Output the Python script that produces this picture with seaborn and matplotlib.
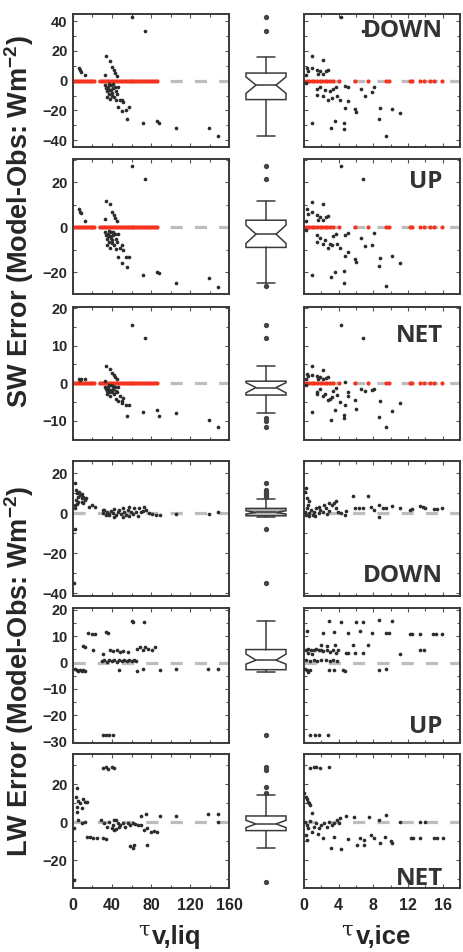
import numpy as np
import matplotlib
matplotlib.use("Agg")
import matplotlib.pyplot as plt
from matplotlib.ticker import MultipleLocator
import seaborn as sns

# ==========================================
# 1. DATOS
# ==========================================
# SW: los tres paneles (DOWN/UP/NET) comparten los mismos casos -> mismo x
sw_liq_x = [6, 7, 8, 12, 33, 34, 38, 40, 42, 43, 45, 60, 74,
            33, 34, 35, 36, 37, 38, 39, 40, 41, 42, 43, 44,
            35, 38, 40, 45, 46, 36, 44, 37, 41, 39,
            46.5, 50, 50, 54, 57, 55, 48, 51, 72, 86, 88, 106, 139, 149]
sw_liq_down = [8.4, 7, 6, 4, 4, 16.7, 13.5, 9, 7, 5, 3, 42.5, 33.5,
               -3, -5, -7, -4, -9, -6, -3, -8, -5, -11, -4, -7,
               -11, -12, -10, -9, -4, -6, -13, -2, -2.5, -6.5,
               -18, -12.7, -20.5, -19.5, -18, -26, -13, -14, -28.7, -27, -28.5, -32, -31.5, -37]
sw_liq_up = [8, 7, 6.4, 3, 3.6, 11.8, 10.6, 7, 5.5, 4, 3, 27.4, 21.5,
             -2, -3.5, -5, -3, -6.5, -4, -2, -5.5, -3.5, -8, -3, -5,
             -8, -9, -7, -6.5, -3, -4, -9.5, -1.5, -2, -4.5,
             -13.3, -7.9, -16, -13, -13, -17.6, -9, -10, -21.2, -19.8, -20.3, -24.7, -22.4, -26.3]
sw_liq_net = [1, 0.8, 1.2, 1, 0.5, 4.6, 3.7, 2.7, 2.2, 1.7, 1, 15.5, 12.1,
              -1, -1.5, -2, -1, -2.5, -2, -0.5, -2, -1.5, -3, -1, -2,
              -3, -3.5, -2.5, -2.5, -1, -1.5, -4.3, -0.5, -0.8, -1.8,
              -4.9, -4.8, -5.4, -5.9, -5.9, -8.8, -3.5, -4, -7.6, -7.1, -8.9, -8, -9.8, -11.6]
# casos con error nulo (rojo)
sw_liq_zero_x = [0, 2, 4, 6, 8, 10, 12, 14, 16, 18, 20, 22, 28, 30, 32, 34, 36, 38, 40, 42,
                 44, 46, 48, 50, 52, 54, 56, 58, 60, 62, 64, 66, 68, 70, 72, 74, 76, 78, 80,
                 82, 84, 86]

sw_ice_x = [0.9, 2.2, 0.35, 0.5, 0.9, 1.5, 1.9, 2.5, 2.8, 1.6, 2.2, 0.27, 0.27,
            1.46, 1.85, 2.4, 3.0, 3.35, 3.7, 1.54, 2.2, 2.8, 3.2, 3.8, 4.2,
            4.7, 5.1, 6.6, 7.0, 7.9, 8.1,
            4.7, 5.1, 5.9, 6.0, 8.8, 10.1, 11.1, 8.7, 0.9, 3.1, 3.6, 4.6, 4.6, 9.5,
            4.3, 6.8]
sw_ice_down = [16.2, 14.0, 8.4, 6.2, 8.4, 7.3, 6.2, 6.2, 6.9, 4.7, 4.7, 4.0, -1.6,
               -5.6, -4.2, -6.0, -7.1, -5.6, -4.2, -9.3, -10.4, -12.7, -11.6, -10.4, -12.7,
               -3.3, -4.2, -5.6, -10.0, -7.8, -4.2,
               -18.2, -13.8, -18.9, -21.1, -18.2, -19.3, -21.6, -26.0, -28.7, -31.5, -27.0, -28.7, -32.2, -37.1,
               42.5, 33.5]
sw_ice_up = [11.4, 10.3, 8.0, 6.0, 7.0, 5.5, 4.8, 4.5, 5.0, 3.2, 3.3, 2.8, -1.0,
             -3.4, -4.5, -5.7, -7.2, -4.0, -3.0, -6.5, -7.5, -9.0, -8.0, -7.5, -9.0,
             -3.4, -2.7, -4.5, -8.4, -7.6, -2.7,
             -12.8, -10.8, -14.2, -15.3, -13.8, -12.8, -16.0, -17.2, -21.2, -22.2, -19.7, -19.2, -24.6, -26.1,
             27.4, 21.5]
sw_ice_net = [4.6, 3.5, 2.5, 1.8, 2.2, 2.0, 1.5, 1.4, 1.6, 1.0, 1.1, 1.0, -0.4,
              -2.3, -1.5, -2.8, -4.2, -2.0, -1.2, -3.0, -3.5, -4.4, -3.8, -3.3, -5.0,
              0.2, -2.3, -1.6, -2.0, -1.9, -1.6,
              -5.8, -3.5, -4.4, -7.0, -4.8, -7.5, -5.4, -9.0, -7.6, -9.9, -7.2, -8.5, -9.2, -11.6,
              15.5, 12.1]
sw_ice_zero_x = [0, 0.3, 0.6, 0.9, 1.2, 1.5, 1.8, 2.1, 2.4, 2.7, 3.0, 3.4, 4.0, 5.9, 7.4,
                 9.5, 9.8, 12.2, 12.5, 13.4, 13.8, 14.5, 15.0, 15.9]

# LW: pares (tau, error)
lw_down_liq = [(2.1, 15), (3, 11.7), (4.3, 10), (5.6, 8.3), (7.2, 9.2), (8.9, 7.5), (10.6, 8.3),
               (12.3, 6.7), (13.3, 7.8), (8.9, 5.8), (5.6, 5.8), (10.6, 5), (2.1, 2.5), (2.1, 4.2),
               (3.5, 6.5), (6.5, 10.5), (9.5, 9.8), (4.5, 4.5),
               (16, 3.3), (19.6, 4.2), (23, 3.3), (2.1, -7.9), (1, -35),
               (30.5, 0), (32, 1.7), (34.5, 0.8), (36.5, -0.5), (38.9, 1.2), (40.6, 0), (42.3, 2.2),
               (44, -0.8), (45.8, 0.5), (47.5, 1.7), (49.2, -0.5), (50.9, 2.8), (52.6, 0.8),
               (54.3, -0.8), (56, 1.7), (57.7, 3.3), (59.4, 0.5), (61.1, -0.5), (62.8, 2.5),
               (64.5, 0.8), (66.2, -1.2), (67.9, 2.5), (69.6, 0.5), (71.3, 1.2), (73, 3.3),
               (74.7, 1.7), (78.1, 0), (81.5, -0.5), (84.9, -0.8), (37.3, -0.8), (42.3, -1.7),
               (50.9, -1.7), (57.7, -1.2), (30.5, 1.7), (33.8, -0.8),
               (89, -0.8), (106, -0.5), (139, -0.5), (149, 0.5)]
lw_down_ice = [(0.1, 10.8), (0.2, 12.5), (0.4, 7.5), (0.6, 6.2), (0.5, 4.2), (0.1, 0.8), (0.2, -0.8),
               (0.4, 2.5), (0.6, 0), (0.8, 1.7), (1.0, -0.8), (1.2, 0.8), (1.4, 2.5), (1.7, 0),
               (1.9, 1.7), (2.2, 0.5), (2.5, 2.5), (2.7, -0.5), (2.9, 1.2), (3.2, 4.2), (3.5, 5.0),
               (3.7, 2.5), (3.9, 0.8), (4.3, 0), (4.7, -0.8), (4.9, 1.2), (1.7, 3.3), (2.3, 4.2),
               (2.9, 5.0), (1.3, -1.2), (0.6, -1.2),
               (3.7, 6.2), (5.7, 8.8), (7.4, 8.8), (5.9, 2.5), (6.4, 2.5), (6.8, 2.5), (7.7, 3.3),
               (8.1, 1.7), (8.7, 4.2), (9.1, 2.8), (8.7, -1.7), (9.5, 2.5), (10.1, 3.8), (11.1, 2.8),
               (12.2, 1.7), (12.5, 2.2), (13.4, 3.8), (13.7, 3.3), (14.0, 2.5), (15.0, 2.2),
               (15.4, 2.2), (15.9, 2.5)]
lw_up_liq = [(2.1, -2.3), (3.8, -2.9), (5.5, -3.2), (7.2, -2.7), (8.9, -3.3), (10.6, -2.9),
             (12.3, -3.2), (10.6, 6.2), (12.3, 5.9), (15.8, 11.2), (19.2, 10.9), (22.6, 10.7),
             (20.9, 4.9), (33.9, 11.6), (36.3, 11.3), (31.2, 3.4),
             (29.4, 0.6), (31.8, 1.1), (34.5, 0.2), (37.3, 0.9), (39.7, 0.5), (42.1, 1.1),
             (44.8, 0.2), (47.5, 0.9), (49.9, 0.6), (52.3, 1.1), (55.0, 0.5), (57.8, 0.9),
             (60.2, 0.6), (62.6, 1.1), (64.6, 0.5),
             (38, 4.7), (41.4, 4.4), (44.8, 4.7), (48.2, 4.1), (51.6, 4.4), (56.7, 4.1),
             (60.2, 15.8), (61.9, 15.4), (73.3, 15.4),
             (65.3, 5.3), (68.7, 5.9), (71.4, 4.9), (73.8, 5.7), (77.2, 5.3), (80.6, 4.9), (84, 5.7),
             (47.5, -2.9), (65.3, -3.2), (72.1, -2.3), (89.2, -2.9), (105.6, -2.3), (138.8, -2.3),
             (149, -2.5),
             (31.2, -27.5), (33.9, -27.3), (37.3, -27.5), (41.4, -27.3)]
lw_up_ice = [(2.9, 15.8), (4.3, 15.4), (6.0, 15.4), (6.8, 15.4), (8.7, 16.0), (10.1, 15.8),
             (0.4, 11.9), (2.2, 11.3), (3.5, 11.6), (5.1, 11.3), (6.5, 11.8), (7.9, 11.3),
             (9.5, 11.3), (9.8, 11.3),
             (12.2, 10.9), (12.5, 10.9), (13.4, 10.9), (14.9, 10.9), (15.2, 10.9), (15.9, 10.9),
             (0.2, 4.7), (0.5, 5.3), (0.8, 4.9), (1.1, 4.7), (1.4, 5.3), (1.7, 4.7), (2.0, 4.9),
             (2.2, 4.4), (2.6, 4.9), (3.0, 4.1), (3.3, 4.7), (3.7, 3.6), (3.9, 4.7), (0.5, 3.6),
             (0.9, 3.4),
             (2.0, 6.8), (2.7, 6.2), (3.6, 6.6), (5.7, 6.6), (7.4, 6.6),
             (4.8, 3.6), (5.1, 3.6), (5.9, 3.6), (6.8, 3.6), (11.1, 3.4), (13.4, 4.9), (13.8, 4.9),
             (0.2, 0.9), (0.7, 0.6), (1.1, 1.1), (1.5, 0.6), (2.0, 0.9), (2.5, 1.1), (3.0, 0.6),
             (3.4, 0.9), (3.8, 0.5),
             (0.1, -2.3), (0.3, -2.9), (0.5, -3.5), (0.7, -2.7), (2.9, -2.7), (3.5, -2.9),
             (4.5, -2.9), (4.7, -3.2), (8.7, -2.9), (9.5, -2.3),
             (0.7, -27.5), (1.3, -27.5), (1.7, -27.5), (2.8, -27.5)]
lw_net_liq = [(31.2, 28.4), (33.9, 29.3), (36.3, 27.9), (39.7, 28.8), (42.1, 28.4),
              (3.8, 17.9), (3, 13.5), (5.5, 11.4), (7.2, 10), (10.6, 12.1), (12.3, 10.7), (14, 10.9),
              (3.8, 8.2), (8.9, 7.4), (4.6, 5.6),
              (1, -3.2), (5.5, 1.2), (8.9, -0.2), (12.3, 0.3),
              (14.7, -7.6), (17.4, -7.9), (20.8, -8.4), (24.2, -8.4), (31, -8.4), (33.7, -8.9),
              (28.9, 1.2), (32.3, -0.5), (35.0, -2.3), (37.4, 0.3), (39.7, -3.2), (42.4, 1.2),
              (44.1, -3.7), (45.8, -0.5), (48.5, -1.4), (50.9, -0.2), (53.3, -2.3), (56.0, -0.5),
              (58.7, -1.4), (61.1, -0.2), (63.5, -0.9), (66.2, -1.4), (40.7, -1.4), (44.1, 1.2),
              (47.5, -2.3), (41.7, -4.1),
              (58.7, -12.6), (61.1, -13.5), (62.8, -11.8),
              (69.6, -1.4), (73, -4.1), (76.4, -3.2), (79.8, -4.9), (83.2, -4.4), (86.5, -4.9),
              (69.6, 3.3), (74.7, 4.2), (76.4, -11.8),
              (89.2, 3.3), (105.6, 3.3), (138.8, 4.2), (149, 4.2), (149, 0.3), (1, -30.4)]
lw_net_ice = [(0.7, 28.4), (1.1, 28.8), (1.4, 29.3), (1.8, 28.4), (2.9, 29.3),
              (0, 15.2), (0.2, 13.5), (0.5, 10.9), (0.6, 10), (0.7, 9.1), (0.4, 12.1), (0.9, 4.7),
              (0.1, 0.3), (0.3, -1.4), (0.5, -3.2), (0.7, 0.5), (0.9, -4.9), (1.1, -2.3), (1.4, -0.5),
              (1.7, -3.2), (2.0, -1.4), (2.3, -0.2), (2.6, -2.3), (2.9, 0.3), (3.2, -1.4),
              (3.5, -0.5), (3.8, 1.2), (4.0, -0.2), (4.2, 2.1), (0.2, -6.7), (0.4, -9.3), (1.6, -6.2),
              (3.1, -13.7), (4.3, -14.0),
              (4.8, 3.3), (5.8, 3.0), (7.5, 3.0), (9.5, 3.9), (8.6, 1.2), (11.1, 0.3), (13.4, 0.0),
              (14.0, 0.3),
              (2.2, -8.4), (3.5, -7.9), (5.1, -9.0), (6.5, -8.4), (6.9, -9.3), (7.7, -6.7),
              (8.1, -8.4), (9.4, -7.9), (10.0, -9.7),
              (6.1, -11.9), (6.9, -11.9), (8.8, -11.1), (10.2, -11.1),
              (12.3, -8.4), (12.6, -8.4), (13.4, -8.4), (15.0, -8.4), (15.3, -8.4), (16.0, -8.4)]

# resumen de las cajas (columna central)
box_sw_down = dict(med=-3, q1=-12.7, q3=5.1, cilo=-8.5, cihi=2.5, whislo=-37, whishi=15.8,
                   fliers=[33.5, 42.5])
box_sw_up = dict(med=-3, q1=-8.9, q3=3.2, cilo=-7.1, cihi=1.0, whislo=-24.9, whishi=11.8,
                 fliers=[21.5, 27.4, -26])
box_sw_net = dict(med=-1.2, q1=-3.2, q3=0.5, cilo=-2.6, cihi=0.1, whislo=-8.1, whishi=4.6,
                  fliers=[15.5, 12.1, -9.4, -10.1, -11.6])
box_lw_down = dict(med=0.5, q1=-1.2, q3=2.5, cilo=-0.3, cihi=1.3, whislo=-1.7, whishi=7,
                   fliers=[8.3, 9.2, 10, 10.8, 11.7, 15, -7.9, -35])
box_lw_up = dict(med=0.9, q1=-2.7, q3=4.9, cilo=-0.6, cihi=3.2, whislo=-3.6, whishi=15.8,
                 fliers=[-27.5])
box_lw_net = dict(med=-0.9, q1=-4.4, q3=3.3, cilo=-2.8, cihi=1.0, whislo=-13.7, whishi=14.4,
                  fliers=[15.3, 18.7, 27.5, 29.3, -31.3])

# ==========================================
# 2. ESTILO
# ==========================================
sns.set_style("ticks")
plt.rcParams['font.family'] = ['Liberation Sans', 'DejaVu Sans']
plt.rcParams['font.weight'] = 'bold'
plt.rcParams['mathtext.fontset'] = 'custom'
plt.rcParams['mathtext.rm'] = 'Liberation Sans'
plt.rcParams['mathtext.bf'] = 'Liberation Sans:bold'

W, H = 464, 952
DOT = '#2d2d2d'
RED = '#f5331f'
GRAY = '#bdbdbd'
EDGE = '#3a3a3a'

fig = plt.figure(figsize=(W / 100, H / 100), dpi=100)


def ax_px(left, top, right, bottom):
    return fig.add_axes([left / W, 1 - bottom / H, (right - left) / W, (bottom - top) / H])


def split(pairs):
    return [p[0] for p in pairs], [p[1] for p in pairs]


def scatter_panel(ax, xs, ys, zero_x=None):
    ax.axhline(0, color=GRAY, lw=2.3, ls=(0, (3.8, 3.8)), zorder=1)
    if zero_x is not None:
        sns.scatterplot(x=zero_x, y=np.zeros(len(zero_x)), ax=ax, color=RED, s=9,
                        linewidth=0, zorder=2, legend=False)
    sns.scatterplot(x=xs, y=ys, ax=ax, color=DOT, s=7, linewidth=0, zorder=3, legend=False)


def frame(ax, xlim, xmaj, xmin, ylim, yticks, ymin, labelleft, labelbottom):
    ax.set_xlim(*xlim)
    ax.set_ylim(*ylim)
    ax.xaxis.set_major_locator(MultipleLocator(xmaj))
    ax.xaxis.set_minor_locator(MultipleLocator(xmin))
    ax.set_yticks(yticks)
    ax.yaxis.set_minor_locator(MultipleLocator(ymin))
    ax.tick_params(which='both', direction='in', top=True, right=True, width=0.8, color='#555555')
    ax.tick_params(which='major', length=3)
    ax.tick_params(which='minor', length=2)
    ax.tick_params(axis='y', labelsize=10.5, pad=4, labelleft=labelleft)
    ax.tick_params(axis='x', labelsize=11.5, pad=7, labelbottom=labelbottom)
    for s in ax.spines.values():
        s.set_color(EDGE)
        s.set_linewidth(1.4)
    ax.set_xlabel('')
    ax.set_ylabel('')


def box_panel(ax, stats, ylim, face='white'):
    ax.bxp([stats], positions=[0], widths=0.667, shownotches=True, patch_artist=True,
           boxprops=dict(facecolor=face, edgecolor=EDGE, linewidth=1.1),
           whiskerprops=dict(color=EDGE, linewidth=1.1),
           capprops=dict(color=EDGE, linewidth=1.1),
           medianprops=dict(color=EDGE, linewidth=1.1),
           flierprops=dict(marker='o', markersize=2.8, markerfacecolor='#444444',
                           markeredgecolor='#444444'),
           capwidths=0.3, manage_ticks=False)
    ax.set_xlim(-0.5, 0.5)
    ax.set_ylim(*ylim)
    ax.axis('off')


rows = [
    # top, bottom, ylim, yticks, yminor, liq, ice, red, caja, etiqueta, y etiqueta
    (14, 147, (-44.5, 44.7), [-40, -20, 0, 20, 40], 10,
     (sw_liq_x, sw_liq_down), (sw_ice_x, sw_ice_down), True, box_sw_down, 'DOWN', 0.827, 'white'),
    (159, 294, (-29.6, 30.4), [-20, 0, 20], 10,
     (sw_liq_x, sw_liq_up), (sw_ice_x, sw_ice_up), True, box_sw_up, 'UP', 0.785, 'white'),
    (307, 440, (-15.2, 20.3), [-10, 0, 10, 20], 5,
     (sw_liq_x, sw_liq_net), (sw_ice_x, sw_ice_net), True, box_sw_net, 'NET', 0.737, 'white'),
    (461, 596, (-41.3, 26.2), [-40, -20, 0, 20], 10,
     split(lw_down_liq), split(lw_down_ice), False, box_lw_down, 'DOWN', 0.104, '#b5b5b5'),
    (608, 743, (-30.4, 20.6), [-30, -20, -10, 0, 10, 20], 5,
     split(lw_up_liq), split(lw_up_ice), False, box_lw_up, 'UP', 0.074, 'white'),
    (754, 888, (-34.6, 35.9), [-20, 0, 20], 10,
     split(lw_net_liq), split(lw_net_ice), False, box_lw_net, 'NET', 0.022, 'white'),
]

# ==========================================
# 3. PANELES
# ==========================================
for i, (top, bot, ylim, yt, ymin, liq, ice, red, box, lab, laby, face) in enumerate(rows):
    last = i == len(rows) - 1

    ax_l = ax_px(73, top, 229, bot)
    scatter_panel(ax_l, liq[0], liq[1], sw_liq_zero_x if red else None)
    frame(ax_l, (0, 160), 40, 20, ylim, yt, ymin, True, last)

    ax_m = ax_px(236, top, 296, bot)
    box_panel(ax_m, box, ylim, face)

    ax_r = ax_px(304, top, 460, bot)
    scatter_panel(ax_r, ice[0], ice[1], sw_ice_zero_x if red else None)
    frame(ax_r, (0, 18), 4, 2, ylim, yt, ymin, False, last)
    ax_r.text(0.89, laby, lab, transform=ax_r.transAxes, ha='right', va='baseline',
              fontsize=17.5, fontweight='bold', color='#333333',
              family=['Open Sans', 'DejaVu Sans'], zorder=6)

# etiquetas de ejes
fig.text(19 / W, 1 - 222 / H, r'SW Error (Model-Obs: Wm$^{\mathbf{-2}}$)', rotation=90,
         ha='center', va='center', fontsize=19.5, fontweight='bold')
fig.text(19 / W, 1 - 671 / H, r'LW Error (Model-Obs: Wm$^{\mathbf{-2}}$)', rotation=90,
         ha='center', va='center', fontsize=19.5, fontweight='bold')

for tx, vx, sub in [(144, 152, 'v,liq'), (347, 356, 'v,ice')]:
    fig.text(tx / W, 1 - 936 / H, '\u03c4', ha='center', va='baseline', fontsize=15,
             fontweight='normal', family=['DejaVu Serif'])
    fig.text(vx / W, 1 - 944 / H, sub, ha='left', va='baseline', fontsize=18.5,
             fontweight='bold')

fig.savefig('out.png', dpi=100)
